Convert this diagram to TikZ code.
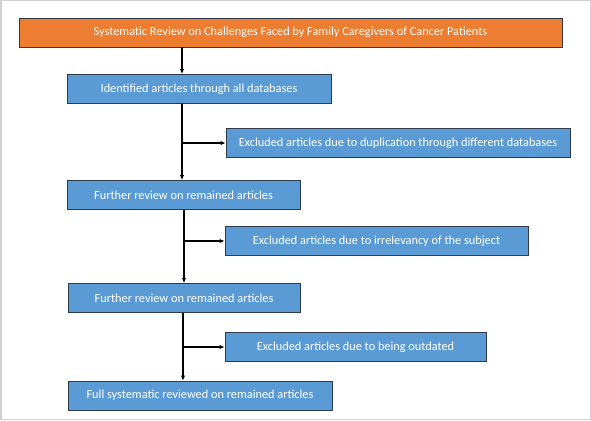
\documentclass[tikz,border=0pt]{standalone}
\usepackage{fontspec}
\setmainfont{Carlito}
\usetikzlibrary{arrows.meta}
\definecolor{orangefill}{HTML}{ED7D31}
\definecolor{bluefill}{HTML}{5B9BD5}
\definecolor{edgedark}{HTML}{2F3B4A}
\definecolor{framegray}{HTML}{D0D0D0}
\tikzset{
  box/.style={draw=edgedark, line width=0.9pt, fill=bluefill, text=white, minimum height=29pt, inner sep=0pt, font=\fontsize{12.3}{14}\selectfont},
  titlebox/.style={box, fill=orangefill},
  arr/.style={draw=black, line width=1.3pt, -{Latex[length=5pt,width=4.5pt]}}
}
\begin{document}
\begin{tikzpicture}[x=1pt,y=-1pt]
\draw[framegray, line width=1.5pt, fill=white] (0.75,0.75) rectangle (590.25,419.25);
\useasboundingbox (0,0) rectangle (591,420);
\node[titlebox, minimum width=543pt] (title) at (290.5,32.5) {Systematic Review on Challenges Faced by Family Caregivers of Cancer Patients};
\node[box, minimum width=264pt] (b1) at (199,89) {Identified articles through all databases};
\node[box, minimum width=344pt] (e1) at (398,143) {Excluded articles due to duplication through different databases};
\node[box, minimum width=233pt] (b2) at (183.5,195) {Further review on remained articles};
\node[box, minimum width=303pt] (e2) at (376.5,241) {Excluded articles due to irrelevancy of the subject};
\node[box, minimum width=232pt] (b3) at (184,298) {Further review on remained articles};
\node[box, minimum width=261pt] (e3) at (355.5,347) {Excluded articles due to being outdated};
\node[box, minimum width=264pt] (b4) at (200,395.5) {Full systematic reviewed on remained articles};
\coordinate (x0) at (182,0);
\coordinate (x1) at (182,0);
\coordinate (x2) at (184,0);
\coordinate (x3) at (183,0);
\draw[arr] (title.south -| x0) -- (b1.north -| x0);
\draw[arr] (b1.south -| x1) -- (b2.north -| x1);
\draw[arr] (e1.west -| x1) -- (e1.west);
\draw[arr] (b2.south -| x2) -- (b3.north -| x2);
\draw[arr] (e2.west -| x2) -- (e2.west);
\draw[arr] (b3.south -| x3) -- (b4.north -| x3);
\draw[arr] (e3.west -| x3) -- (e3.west);
\end{tikzpicture}
\end{document}
